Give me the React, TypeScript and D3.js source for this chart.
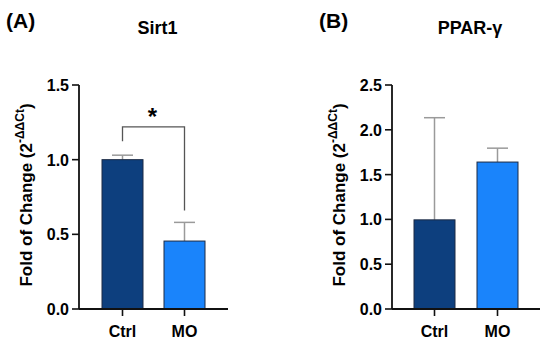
import React from "react";
import * as d3 from "d3";

const groups = ["Ctrl", "MO"];
const sirt1Mean = [1.0, 0.455];
const sirt1Err = [0.03, 0.125];
const pparMean = [0.995, 1.64];
const pparErr = [1.14, 0.155];
const sirt1Ticks = [0, 0.5, 1.0, 1.5];
const pparTicks = [0, 0.5, 1.0, 1.5, 2.0, 2.5];
const barColors = ["#0d3f7e", "#1a84fb"];

interface PanelProps {
  x0: number;
  letter: string;
  title: string;
  means: number[];
  errs: number[];
  ticks: number[];
  maxY: number;
  axisEnd: number;
  barStart: number;
  barGap: number;
  sig?: boolean;
}

function Panel(p: PanelProps) {
  const top = 85;
  const bottom = 309;
  const y = d3.scaleLinear().domain([0, p.maxY]).range([bottom, top]);
  const barW = 41;
  const x = d3
    .scaleOrdinal<string, number>()
    .domain(groups)
    .range([p.barStart, p.barStart + barW + p.barGap]);
  const font = "'Liberation Sans', Arial, sans-serif";
  const bracketY = y(1.22);
  return (
    <g transform={`translate(${p.x0},0)`}>
      <text x={-73} y={28} fontSize={21} fontWeight="bold" fontFamily={font}>
        {p.letter}
      </text>
      <text
        x={p.axisEnd / 2 + 4}
        y={34}
        fontSize={18}
        fontWeight="bold"
        fontFamily={font}
        textAnchor="middle"
      >
        {p.title}
      </text>
      <text
        transform={`translate(-47,${(top + bottom) / 2 - 2}) rotate(-90)`}
        fontSize={17}
        fontWeight="bold"
        fontFamily={font}
        textAnchor="middle"
      >
        Fold of Change (2
        <tspan fontSize={12} dy={-8}>-ΔΔCt</tspan>
        <tspan dy={8}>)</tspan>
      </text>
      {/* bars */}
      {groups.map((g, i) => (
        <g key={g}>
          <line
            x1={x(g) + barW / 2}
            x2={x(g) + barW / 2}
            y1={y(p.means[i])}
            y2={y(p.means[i] + p.errs[i])}
            stroke="#9a9a9a"
            strokeWidth={1.5}
          />
          <line
            x1={x(g) + barW / 2 - 10.5}
            x2={x(g) + barW / 2 + 10.5}
            y1={y(p.means[i] + p.errs[i])}
            y2={y(p.means[i] + p.errs[i])}
            stroke="#9a9a9a"
            strokeWidth={1.5}
          />
          <rect
            x={x(g)}
            y={y(p.means[i])}
            width={barW}
            height={bottom - y(p.means[i])}
            fill={barColors[i]}
            stroke="#1c2a44"
            strokeWidth={1}
          />
          <line
            x1={x(g) + barW / 2}
            x2={x(g) + barW / 2}
            y1={bottom}
            y2={bottom + 7}
            stroke="#111"
            strokeWidth={1.6}
          />
          <text
            x={x(g) + barW / 2}
            y={337}
            fontSize={16}
            fontWeight="bold"
            fontFamily={font}
            textAnchor="middle"
          >
            {g}
          </text>
        </g>
      ))}
      {/* axes */}
      <line x1={0} x2={0} y1={top} y2={bottom} stroke="#111" strokeWidth={1.8} />
      <line x1={0} x2={p.axisEnd} y1={bottom} y2={bottom} stroke="#111" strokeWidth={1.8} />
      {p.ticks.map((t) => (
        <g key={t}>
          <line x1={-7} x2={0} y1={y(t)} y2={y(t)} stroke="#111" strokeWidth={1.6} />
          <text
            x={-10}
            y={y(t) + 6}
            fontSize={16}
            fontWeight="bold"
            fontFamily={font}
            textAnchor="end"
          >
            {t.toFixed(1)}
          </text>
        </g>
      ))}
      {p.sig && (
        <g>
          <path
            d={`M${x(groups[0]) + barW / 2},${y(p.means[0] + p.errs[0]) - 14}V${bracketY}H${
              x(groups[1]) + barW / 2
            }V${y(p.means[1] + p.errs[1]) - 12}`}
            fill="none"
            stroke="#555"
            strokeWidth={1.3}
          />
          <text
            x={(x(groups[0]) + x(groups[1])) / 2 + barW / 2 - 1}
            y={bracketY - 2}
            fontSize={24}
            fontWeight="bold"
            fontFamily={font}
            textAnchor="middle"
          >
            *
          </text>
        </g>
      )}
    </g>
  );
}

export default function App() {
  return (
    <svg width={550} height={345} style={{ position: "absolute", left: 0, top: 0 }}>
      <rect width={550} height={345} fill="#fff" />
      <Panel
        x0={79}
        letter="(A)"
        title="Sirt1"
        means={sirt1Mean}
        errs={sirt1Err}
        ticks={sirt1Ticks}
        maxY={1.5}
        axisEnd={149}
        barStart={23}
        barGap={21}
        sig
      />
      <Panel
        x0={392}
        letter="(B)"
        title="PPAR-γ"
        means={pparMean}
        errs={pparErr}
        ticks={pparTicks}
        maxY={2.5}
        axisEnd={148}
        barStart={22}
        barGap={22}
      />
    </svg>
  );
}
